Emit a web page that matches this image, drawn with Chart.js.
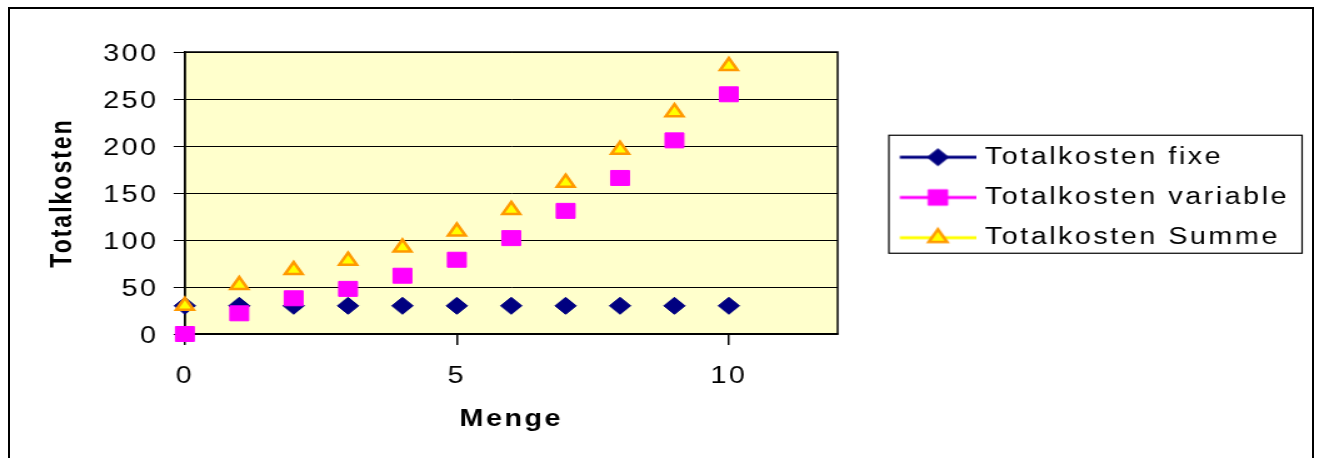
<!DOCTYPE html>
<html>
<head>
<meta charset="utf-8">
<title>Totalkosten</title>
<script src="https://cdn.jsdelivr.net/npm/chart.js@4.4.0/dist/chart.umd.min.js"></script>
<style>
  html, body { margin: 0; padding: 0; background: #fff; overflow: hidden; }
  #frame { position: absolute; left: 8px; top: 7px; width: 1306px; height: 520px; box-sizing: border-box; border: 2px solid #000; }
  #wrap { position: absolute; left: 0; top: 0; width: 1055px; height: 458px; transform: scaleX(1.2502); transform-origin: 0 0; }
</style>
</head>
<body>
<div id="frame"></div>
<div id="wrap"><canvas id="kosten" width="1055" height="458" style="width:1055px;height:458px"></canvas></div>
<script>
const menge = [0, 1, 2, 3, 4, 5, 6, 7, 8, 9, 10];
const kostenFix = [30, 30, 30, 30, 30, 30, 30, 30, 30, 30, 30];
const kostenVariabel = [0, 22, 38, 48, 62, 79, 102, 131, 166, 206, 255];
const kostenSumme = [30, 52, 68, 78, 92, 109, 132, 161, 196, 236, 285];
const serien = ["Totalkosten fixe", "Totalkosten variable", "Totalkosten Summe"];
const xTicks = [0, 5, 10];
const yTicks = [0, 50, 100, 150, 200, 250, 300];

Chart.defaults.font.family = "'Liberation Sans', Arial, sans-serif";
Chart.defaults.color = "#000";

const SPACING = "2px";

// little line + marker picture for each legend entry
function legendIcon(lineColor, style, radius, fill, border, bw) {
	const c = document.createElement("canvas");
	c.width = 99;
	c.height = 24;
	const g = c.getContext("2d");
	g.strokeStyle = lineColor;
	g.lineWidth = 3;
	g.beginPath();
	g.moveTo(37.5, 12);
	g.lineTo(99, 12);
	g.stroke();
	g.fillStyle = fill;
	g.strokeStyle = border;
	g.lineWidth = bw;
	Chart.helpers.drawPoint(g, { pointStyle: style, radius: radius, rotation: 0, borderWidth: bw }, 68, 12);
	return c;
}

const icons = [
	legendIcon("#000080", "rectRot", 8.5, "#000080", "#000080", 1),
	legendIcon("#FF00FF", "rect", 11, "#FF00FF", "#FF00FF", 1),
	legendIcon("#FFFF00", "triangle", 8.5, "#FFFF00", "#FF9900", 2.5)
];

const excelLook = {
	id: "excelLook",
	beforeLayout(chart) {
		chart.ctx.letterSpacing = SPACING;
		const lg = chart.legend;
		if (lg && !lg._fixedWidth) {
			const fit = lg.fit;
			lg.fit = function () {
				fit.call(this);
				this.width = 385;
			};
			lg._fixedWidth = true;
		}
	},
	afterLayout(chart) {
		chart.legend.top += 4.5;
		chart.legend.bottom += 4.5;
	},
	beforeDraw(chart) {
		const ctx = chart.ctx;
		ctx.letterSpacing = SPACING;
		const a = chart.chartArea;
		ctx.save();
		ctx.fillStyle = "#FFFFCC";
		ctx.fillRect(a.left, a.top, a.right - a.left, a.bottom - a.top);
		ctx.restore();
	},
	beforeDatasetsDraw(chart) {
		const a = chart.chartArea;
		const ctx = chart.ctx;
		ctx.save();
		ctx.strokeStyle = "#000";
		ctx.lineWidth = 1.5;
		ctx.strokeRect(a.left, a.top, a.right - a.left, a.bottom - a.top);
		ctx.restore();
	},
	afterDraw(chart) {
		const lg = chart.legend;
		const hb = lg.legendHitBoxes;
		if (!hb || !hb.length) return;
		const top = hb[0].top - 10.5;
		const bottom = hb[hb.length - 1].top + hb[hb.length - 1].height + 4;
		const ctx = chart.ctx;
		ctx.save();
		ctx.strokeStyle = "#000";
		ctx.lineWidth = 1.2;
		ctx.strokeRect(lg.left + 41, top, 330.5, bottom - top);
		ctx.restore();
	}
};

function punkte(werte) {
	return menge.map((m, i) => ({ x: m, y: werte[i] }));
}

new Chart(document.getElementById("kosten"), {
	type: "scatter",
	data: {
		datasets: [
			{
				label: serien[0],
				data: punkte(kostenFix),
				showLine: false,
				pointStyle: "rectRot",
				pointRadius: 8.5,
				pointBorderWidth: 1,
				pointBackgroundColor: "#000080",
				pointBorderColor: "#000080",
				borderColor: "#000080",
				order: 3,
				clip: false
			},
			{
				label: serien[1],
				data: punkte(kostenVariabel),
				showLine: false,
				pointStyle: "rect",
				pointRadius: 10.6,
				pointBorderWidth: 1,
				pointBackgroundColor: "#FF00FF",
				pointBorderColor: "#FF00FF",
				borderColor: "#FF00FF",
				order: 2,
				clip: false
			},
			{
				label: serien[2],
				data: punkte(kostenSumme),
				showLine: false,
				pointStyle: "triangle",
				pointRadius: 8,
				pointBorderWidth: 2.5,
				pointBackgroundColor: "#FFFF00",
				pointBorderColor: "#FF9900",
				borderColor: "#FFFF00",
				order: 1,
				clip: false
			}
		]
	},
	options: {
		responsive: false,
		devicePixelRatio: 1,
		animation: false,
		events: [],
		layout: { padding: { left: 25, top: 52, right: 0, bottom: 24.2 } },
		scales: {
			x: {
				type: "linear",
				position: "bottom",
				min: 0,
				max: 12,
				afterBuildTicks: axis => { axis.ticks = xTicks.map(v => ({ value: v })); },
				ticks: { font: { size: 23 }, padding: 18.2, maxRotation: 0, color: "#000" },
				grid: { drawOnChartArea: false, drawTicks: true, tickLength: 11, color: "#000", lineWidth: 1.5 },
				border: { display: true, color: "#000", width: 2 },
				title: { display: true, text: "Menge", font: { size: 23, weight: "bold" }, padding: { top: -2.8, bottom: 0 }, color: "#000" }
			},
			y: {
				min: 0,
				max: 300,
				afterBuildTicks: axis => { axis.ticks = yTicks.map(v => ({ value: v })); },
				ticks: { font: { size: 23 }, padding: 12, labelOffset: 3, color: "#000" },
				grid: { color: "#000", lineWidth: 1, tickLength: 9 },
				border: { display: true, color: "#000", width: 1.5 },
				title: { display: true, text: "Totalkosten", font: { size: 23, weight: "bold" }, padding: { top: 11.6, bottom: 6.3 }, color: "#000" }
			}
		},
		plugins: {
			tooltip: { enabled: false },
			legend: {
				position: "right",
				fullSize: false,
				align: "center",
				labels: {
					usePointStyle: true,
					pointStyleWidth: 89,
					padding: 17.25,
					font: { size: 23 },
					color: "#000",
					generateLabels: chart => chart.data.datasets.map((ds, i) => ({
						text: ds.label,
						pointStyle: icons[i],
						datasetIndex: i,
						hidden: false,
						lineWidth: 0,
						fillStyle: "rgba(0,0,0,0)",
						strokeStyle: "rgba(0,0,0,0)",
						fontColor: "#000"
					}))
				}
			}
		}
	},
	plugins: [excelLook]
});
</script>
</body>
</html>
